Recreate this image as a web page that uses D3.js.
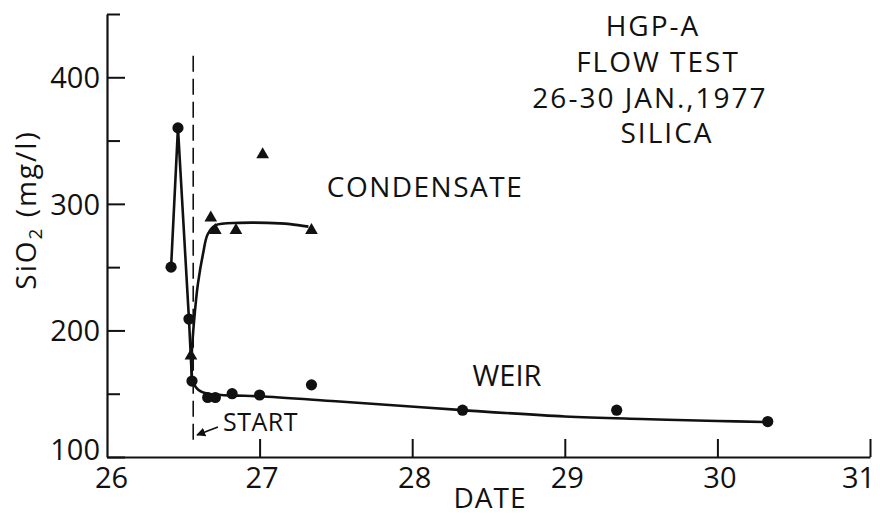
<!DOCTYPE html>
<html>
<head>
<meta charset="utf-8">
<script src="https://cdn.jsdelivr.net/npm/d3@7"></script>
<style>
  html, body { margin: 0; padding: 0; background: #fff; }
  svg text { font-family: "Open Sans", "DejaVu Sans", sans-serif; fill: #111; }
</style>
</head>
<body>
<svg id="chart" width="880" height="517"></svg>
<script>
const weirDates = [26.42, 26.465, 26.537, 26.557, 26.66, 26.71, 26.82, 27.0, 27.34, 28.33, 29.34, 30.33];
const weirSilica = [250, 360, 209, 160, 147, 147, 150, 149, 157, 137, 137, 128];

const condDates = [26.55, 26.68, 26.71, 26.845, 27.02, 27.34];
const condSilica = [180, 289, 279, 279, 339, 279];

// hand-drawn lines
const weirLeadDates = [26.42, 26.465, 26.537, 26.557];
const weirLeadSilica = [250, 360, 209, 160];
const weirFitDates = [26.557, 26.6, 26.66, 26.75, 26.85, 27.0, 27.5, 27.92, 28.33, 29.0, 29.5, 30.0, 30.33];
const weirFitSilica = [160, 153, 150, 149, 148.5, 148, 144, 140.5, 137, 132, 130, 128.5, 127.6];
const condFitDates = [26.557, 26.555, 26.577, 26.596, 26.63, 26.66, 26.71, 26.87, 27.05, 27.2, 27.32];
const condFitSilica = [160, 180, 216, 237, 261, 276, 283, 285, 285, 284, 282];

const startDate = 26.565;
const startRange = [109, 417];

const xTicks = [26, 27, 28, 29, 30, 31];
const yTicks = [100, 200, 300, 400];
const yMinorTicks = [150, 250, 350, 450];
const titleLines = ["HGP-A", "FLOW TEST", "26-30 JAN.,1977", "SILICA"];

const width = 880, height = 517;
const margin = { left: 107, right: 10, top: 14, bottom: 60 };

const svg = d3.select("#chart");

const x = d3.scaleLinear([26, 31], [margin.left, width - margin.right]);
const y = d3.scaleLinear([100, 450], [height - margin.bottom, margin.top]);

const ink = "#111";

// axes
const xAxis = d3.axisBottom(x).tickValues(xTicks).tickSize(-18).tickSizeOuter(0).tickPadding(10)
    .tickFormat(d3.format("d"));
const gx = svg.append("g")
    .attr("transform", `translate(0,${y(100)})`)
    .call(xAxis);
gx.select(".domain").attr("stroke", ink).attr("stroke-width", 2.2);
gx.selectAll(".tick line").attr("stroke", ink).attr("stroke-width", 2)
    .filter(d => d === 26).remove();
gx.selectAll(".tick text").attr("font-size", 29).attr("font-family", null).attr("fill", ink)
    .attr("dx", d => d === 26 ? 4 : d === 31 ? -12 : 2);

const yAxis = d3.axisLeft(y).tickValues(yTicks).tickSize(-18).tickSizeOuter(0).tickPadding(7)
    .tickFormat(d3.format("d"));
const gy = svg.append("g")
    .attr("transform", `translate(${x(26)},0)`)
    .call(yAxis);
gy.select(".domain").attr("stroke", ink).attr("stroke-width", 2.2);
gy.selectAll(".tick line").attr("stroke", ink).attr("stroke-width", 2);
gy.selectAll(".tick text").attr("font-size", 29).attr("font-family", null).attr("fill", ink)
    .attr("dy", d => d === 100 ? "0.1em" : "0.35em");

const gyMinor = svg.append("g")
    .attr("transform", `translate(${x(26)},0)`)
    .call(d3.axisLeft(y).tickValues(yMinorTicks).tickSize(-13).tickFormat(""));
gyMinor.select(".domain").remove();
gyMinor.selectAll(".tick line").attr("stroke", ink).attr("stroke-width", 2);

// axis titles
svg.append("text")
    .attr("x", 490)
    .attr("y", 508)
    .attr("text-anchor", "middle")
    .attr("font-size", 28)
    .attr("letter-spacing", 1)
    .text("DATE");

const yl = svg.append("text")
    .attr("transform", `translate(36,210) rotate(-90)`)
    .attr("text-anchor", "middle")
    .attr("font-size", 28)
    .attr("letter-spacing", 2);
yl.append("tspan").text("SiO");
yl.append("tspan").attr("font-size", 19).attr("dy", 6).text("2");
yl.append("tspan").attr("dy", -6).text(" (mg/l)");

// start marker
svg.append("line")
    .attr("x1", x(startDate)).attr("x2", x(startDate))
    .attr("y1", y(startRange[1])).attr("y2", y(startRange[0]))
    .attr("stroke", ink).attr("stroke-width", 1.6)
    .attr("stroke-dasharray", "16,7");

svg.append("defs").append("marker")
    .attr("id", "arrow")
    .attr("viewBox", "0 0 10 10")
    .attr("refX", 9).attr("refY", 5)
    .attr("markerWidth", 9).attr("markerHeight", 9)
    .attr("markerUnits", "userSpaceOnUse")
    .attr("orient", "auto")
    .append("path").attr("d", "M0,0 L10,5 L0,10 z").attr("fill", ink);

svg.append("line")
    .attr("x1", x(26.727)).attr("y1", y(123.7))
    .attr("x2", x(26.59)).attr("y2", y(117.4))
    .attr("stroke", ink).attr("stroke-width", 1.8)
    .attr("marker-end", "url(#arrow)");

svg.append("text")
    .attr("x", x(26.76)).attr("y", y(120.5))
    .attr("font-size", 25)
    .attr("letter-spacing", 0.5)
    .text("START");

// curves
const line = d3.line().x(d => x(d[0])).y(d => y(d[1]));
const smooth = d3.line().x(d => x(d[0])).y(d => y(d[1])).curve(d3.curveCatmullRom.alpha(0.5));

svg.append("path")
    .attr("d", line(d3.zip(weirLeadDates, weirLeadSilica)))
    .attr("fill", "none").attr("stroke", ink).attr("stroke-width", 2.6).attr("stroke-linejoin", "round");

svg.append("path")
    .attr("d", smooth(d3.zip(weirFitDates, weirFitSilica)))
    .attr("fill", "none").attr("stroke", ink).attr("stroke-width", 2.6);

svg.append("path")
    .attr("d", smooth(d3.zip(condFitDates, condFitSilica)))
    .attr("fill", "none").attr("stroke", ink).attr("stroke-width", 2.6);

// points
svg.append("g").selectAll("circle")
    .data(d3.zip(weirDates, weirSilica))
    .join("circle")
    .attr("cx", d => x(d[0])).attr("cy", d => y(d[1]))
    .attr("r", 5.6).attr("fill", ink);

const tri = d3.symbol(d3.symbolTriangle, 70);
svg.append("g").selectAll("path")
    .data(d3.zip(condDates, condSilica))
    .join("path")
    .attr("transform", d => `translate(${x(d[0])},${y(d[1])})`)
    .attr("d", tri).attr("fill", ink);

// labels
svg.append("text").attr("x", 425).attr("y", 197).attr("text-anchor", "middle")
    .attr("font-size", 28).attr("letter-spacing", 1.5).text("CONDENSATE");
svg.append("text").attr("x", 507).attr("y", 386).attr("text-anchor", "middle")
    .attr("font-size", 29).text("WEIR");

const titleY = [36, 72, 108, 143];
const titleX = [653, 658, 650, 667];
svg.append("g").selectAll("text")
    .data(titleLines)
    .join("text")
    .attr("x", (d, i) => titleX[i])
    .attr("y", (d, i) => titleY[i])
    .attr("text-anchor", "middle")
    .attr("font-size", 28)
    .attr("letter-spacing", 2)
    .text(d => d);
</script>
</body>
</html>
